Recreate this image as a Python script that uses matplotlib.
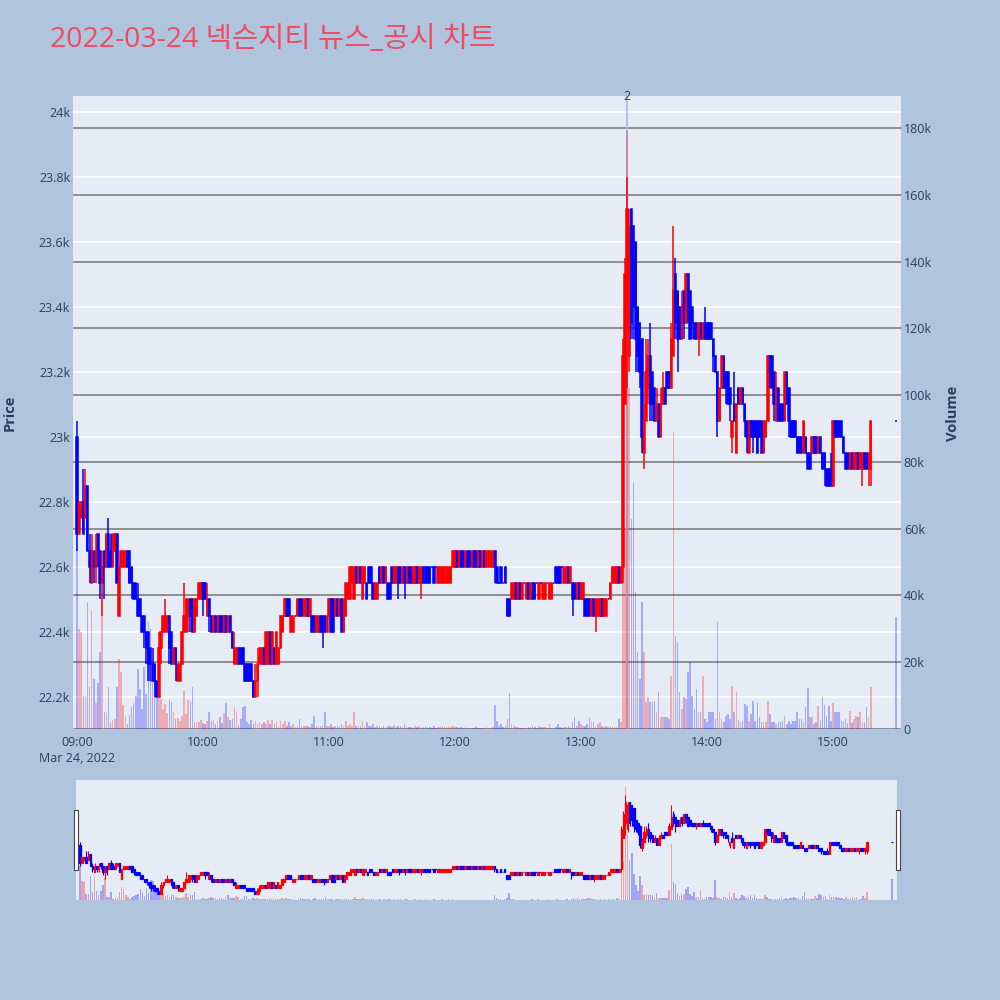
import numpy as np
import pandas as pd
import matplotlib
matplotlib.use("Agg")
import matplotlib.pyplot as plt
import matplotlib.dates as mdates
from matplotlib.lines import Line2D
from matplotlib.patches import Rectangle
from matplotlib.ticker import FuncFormatter

title = "2022-03-24 넥슨지티 뉴스_공시 차트"

# one candle per minute from 09:00 to 15:18, then the 15:30 closing auction
opens = [
    23000, 22700, 22750, 22800, 22750, 22850, 22650, 22550, 22650, 22600,
    22700, 22650, 22550, 22650, 22600, 22700, 22650, 22600, 22650, 22700,
    22450, 22600, 22600, 22600, 22650, 22650, 22600, 22550, 22550, 22500,
    22500, 22450, 22450, 22400, 22400, 22350, 22300, 22300, 22250, 22200,
    22350, 22400, 22400, 22400, 22450, 22400, 22300, 22350, 22250, 22250,
    22300, 22400, 22400, 22450, 22500, 22500, 22400, 22450, 22500, 22500,
    22550, 22550, 22450, 22500, 22450, 22400, 22450, 22400, 22450, 22450,
    22400, 22450, 22400, 22450, 22400, 22300, 22300, 22350, 22350, 22350,
    22300, 22300, 22300, 22300, 22250, 22200, 22250, 22300, 22300, 22350,
    22300, 22300, 22400, 22300, 22350, 22300, 22300, 22350, 22400, 22450,
    22500, 22500, 22400, 22400, 22450, 22450, 22500, 22500, 22450, 22450,
    22500, 22450, 22450, 22450, 22400, 22400, 22450, 22450, 22450, 22400,
    22450, 22500, 22500, 22450, 22500, 22450, 22500, 22400, 22450, 22500,
    22500, 22550, 22500, 22600, 22550, 22600, 22500, 22550, 22550, 22600,
    22600, 22550, 22500, 22500, 22600, 22550, 22600, 22550, 22550, 22550,
    22600, 22550, 22550, 22600, 22600, 22550, 22600, 22550, 22600, 22600,
    22550, 22550, 22600, 22550, 22550, 22600, 22600, 22600, 22600, 22600,
    22600, 22600, 22550, 22550, 22550, 22550, 22550, 22550, 22550, 22600,
    22600, 22650, 22600, 22650, 22650, 22600, 22650, 22650, 22600, 22650,
    22650, 22600, 22650, 22600, 22650, 22600, 22600, 22600, 22600, 22650,
    22600, 22550, 22600, 22550, 22600, 22500, 22500, 22500, 22500, 22550,
    22500, 22550, 22500, 22550, 22500, 22550, 22500, 22550, 22550, 22550,
    22500, 22550, 22500, 22500, 22550, 22500, 22500, 22550, 22600, 22600,
    22600, 22600, 22550, 22550, 22600, 22550, 22550, 22550, 22500, 22550,
    22500, 22500, 22500, 22500, 22500, 22450, 22500, 22450, 22450, 22450,
    22500, 22450, 22450, 22500, 22500, 22550, 22550, 22550, 22600, 22550,
    22600, 23100, 23350, 23250, 23700, 23650, 23600, 23400, 23350, 23300,
    22950, 23050, 23150, 23250, 23200, 23150, 23050, 23100, 23000, 23100,
    23150, 23200, 23200, 23150, 23250, 23500, 23450, 23400, 23300, 23450,
    23350, 23500, 23450, 23400, 23350, 23350, 23300, 23350, 23300, 23350,
    23350, 23350, 23350, 23300, 23250, 23200, 23050, 23150, 23250, 23200,
    23200, 23150, 23000, 23100, 22950, 23150, 23100, 23150, 23100, 23050,
    22950, 23050, 23050, 23050, 23050, 23050, 23050, 22950, 23000, 23050,
    23250, 23250, 23200, 23050, 23150, 23100, 23100, 23050, 23200, 23150,
    23050, 23050, 23050, 23000, 23000, 23000, 22950, 23000, 22950, 22950,
    22950, 23000, 23000, 22950, 23000, 22950, 22950, 22900, 22900, 22900,
    22850, 23050, 23050, 23050, 23050, 23000, 22950, 22950, 22900, 22950,
    22900, 22900, 22950, 22900, 22900, 22950, 22950, 22900, 22900,
    23050,
]
highs = [
    23050, 22800, 22800, 22900, 22900, 22850, 22700, 22700, 22650, 22700,
    22700, 22650, 22650, 22650, 22700, 22750, 22700, 22700, 22700, 22700,
    22600, 22650, 22650, 22650, 22650, 22650, 22600, 22550, 22550, 22550,
    22500, 22450, 22450, 22400, 22400, 22350, 22350, 22300, 22250, 22400,
    22400, 22450, 22500, 22450, 22450, 22400, 22350, 22350, 22300, 22300,
    22400, 22550, 22500, 22500, 22500, 22500, 22500, 22500, 22550, 22550,
    22550, 22550, 22550, 22500, 22450, 22450, 22450, 22450, 22450, 22450,
    22450, 22450, 22450, 22450, 22400, 22400, 22350, 22350, 22350, 22350,
    22300, 22300, 22300, 22300, 22250, 22300, 22350, 22350, 22350, 22350,
    22400, 22400, 22400, 22400, 22350, 22400, 22350, 22450, 22450, 22500,
    22500, 22500, 22450, 22450, 22450, 22500, 22500, 22500, 22500, 22500,
    22500, 22500, 22450, 22450, 22450, 22450, 22450, 22450, 22450, 22450,
    22500, 22500, 22500, 22500, 22500, 22500, 22500, 22500, 22550, 22550,
    22600, 22600, 22600, 22600, 22600, 22600, 22600, 22600, 22550, 22600,
    22600, 22550, 22550, 22550, 22600, 22600, 22600, 22600, 22550, 22550,
    22600, 22600, 22600, 22600, 22600, 22600, 22600, 22600, 22600, 22600,
    22600, 22600, 22600, 22600, 22600, 22600, 22600, 22600, 22600, 22600,
    22600, 22600, 22600, 22600, 22600, 22600, 22600, 22600, 22600, 22650,
    22650, 22650, 22650, 22650, 22650, 22650, 22650, 22650, 22650, 22650,
    22650, 22650, 22650, 22650, 22650, 22650, 22650, 22650, 22650, 22650,
    22600, 22550, 22600, 22550, 22600, 22500, 22500, 22550, 22550, 22550,
    22550, 22550, 22550, 22550, 22550, 22550, 22550, 22550, 22550, 22550,
    22550, 22550, 22550, 22550, 22550, 22550, 22550, 22550, 22600, 22600,
    22600, 22600, 22600, 22600, 22600, 22600, 22550, 22550, 22550, 22550,
    22550, 22550, 22500, 22500, 22500, 22500, 22500, 22500, 22500, 22500,
    22500, 22500, 22500, 22500, 22550, 22600, 22600, 22600, 22600, 22600,
    23300, 23550, 23800, 23700, 23700, 23650, 23600, 23400, 23350, 23300,
    23100, 23300, 23300, 23350, 23200, 23150, 23150, 23100, 23150, 23200,
    23150, 23200, 23200, 23350, 23650, 23550, 23450, 23400, 23450, 23450,
    23500, 23500, 23450, 23400, 23350, 23350, 23350, 23350, 23350, 23400,
    23350, 23350, 23350, 23300, 23250, 23200, 23150, 23250, 23250, 23200,
    23200, 23150, 23050, 23200, 23100, 23150, 23150, 23150, 23100, 23050,
    23050, 23050, 23050, 23050, 23050, 23050, 23050, 23050, 23050, 23250,
    23250, 23250, 23200, 23200, 23150, 23100, 23100, 23200, 23200, 23150,
    23050, 23050, 23050, 23000, 23000, 23000, 23050, 23000, 22950, 22950,
    23000, 23000, 23000, 23000, 23000, 22950, 22950, 22900, 22900, 22950,
    23050, 23050, 23050, 23050, 23050, 23000, 22950, 22950, 22950, 22950,
    22950, 22950, 22950, 22950, 22950, 22950, 22950, 22950, 23050,
    23050,
]
lows = [
    22650, 22700, 22750, 22700, 22750, 22650, 22550, 22550, 22550, 22550,
    22600, 22500, 22450, 22500, 22600, 22600, 22600, 22600, 22650, 22550,
    22450, 22600, 22600, 22600, 22600, 22550, 22500, 22500, 22500, 22450,
    22450, 22400, 22350, 22300, 22250, 22250, 22250, 22200, 22200, 22200,
    22300, 22400, 22400, 22400, 22300, 22300, 22300, 22250, 22250, 22250,
    22300, 22400, 22400, 22400, 22400, 22400, 22400, 22450, 22500, 22500,
    22450, 22500, 22450, 22400, 22400, 22400, 22400, 22400, 22400, 22400,
    22400, 22400, 22400, 22400, 22350, 22300, 22300, 22300, 22300, 22300,
    22250, 22250, 22250, 22250, 22200, 22200, 22200, 22300, 22300, 22300,
    22300, 22300, 22300, 22300, 22300, 22300, 22300, 22350, 22400, 22450,
    22450, 22450, 22400, 22400, 22450, 22450, 22450, 22450, 22450, 22450,
    22450, 22450, 22400, 22400, 22400, 22400, 22400, 22350, 22400, 22400,
    22450, 22400, 22400, 22450, 22450, 22450, 22400, 22400, 22450, 22500,
    22500, 22550, 22500, 22550, 22550, 22550, 22500, 22550, 22500, 22550,
    22550, 22500, 22500, 22500, 22550, 22550, 22550, 22550, 22500, 22500,
    22550, 22550, 22550, 22500, 22550, 22550, 22500, 22550, 22550, 22550,
    22550, 22550, 22550, 22550, 22500, 22550, 22550, 22550, 22550, 22600,
    22550, 22600, 22550, 22550, 22550, 22550, 22550, 22550, 22550, 22600,
    22600, 22600, 22600, 22600, 22600, 22600, 22600, 22600, 22600, 22600,
    22600, 22600, 22600, 22600, 22600, 22600, 22600, 22600, 22600, 22550,
    22550, 22550, 22550, 22550, 22550, 22450, 22450, 22500, 22500, 22500,
    22500, 22500, 22500, 22550, 22500, 22500, 22500, 22500, 22500, 22550,
    22500, 22550, 22500, 22500, 22550, 22500, 22500, 22550, 22550, 22550,
    22550, 22600, 22550, 22550, 22550, 22550, 22450, 22500, 22500, 22500,
    22500, 22500, 22450, 22450, 22450, 22450, 22450, 22400, 22450, 22450,
    22450, 22450, 22450, 22500, 22500, 22550, 22550, 22550, 22550, 22550,
    22550, 23100, 23150, 23200, 23300, 23300, 23200, 23200, 23150, 22950,
    22900, 23050, 23100, 23050, 23050, 23050, 23050, 23000, 23000, 23100,
    23100, 23150, 23150, 23150, 23250, 23300, 23200, 23300, 23300, 23300,
    23350, 23350, 23300, 23300, 23300, 23300, 23250, 23300, 23300, 23300,
    23300, 23300, 23300, 23200, 23200, 23000, 23050, 23150, 23150, 23100,
    23100, 23050, 22950, 23050, 22950, 23100, 23100, 23100, 23000, 22950,
    22950, 23000, 22950, 23000, 22950, 23000, 22950, 22950, 23000, 23050,
    23150, 23150, 23050, 23050, 23050, 23050, 23050, 23050, 23100, 23000,
    23000, 23000, 23000, 22950, 22950, 22950, 22950, 22950, 22900, 22900,
    22950, 22950, 22950, 22950, 22950, 22900, 22850, 22850, 22850, 22850,
    22850, 23000, 23000, 23000, 23000, 22950, 22900, 22900, 22900, 22900,
    22900, 22900, 22900, 22900, 22850, 22900, 22900, 22850, 22850,
    23050,
]
closes = [
    22700, 22800, 22800, 22700, 22850, 22650, 22600, 22650, 22600, 22650,
    22650, 22550, 22600, 22600, 22700, 22600, 22600, 22700, 22700, 22550,
    22600, 22650, 22650, 22650, 22600, 22550, 22550, 22500, 22500, 22450,
    22450, 22400, 22400, 22350, 22300, 22300, 22250, 22250, 22200, 22350,
    22400, 22450, 22450, 22450, 22350, 22300, 22350, 22300, 22300, 22300,
    22400, 22450, 22500, 22500, 22450, 22400, 22500, 22500, 22550, 22550,
    22500, 22500, 22500, 22450, 22400, 22450, 22400, 22450, 22400, 22400,
    22450, 22400, 22450, 22400, 22350, 22350, 22350, 22300, 22300, 22300,
    22250, 22250, 22250, 22250, 22200, 22250, 22300, 22350, 22350, 22300,
    22400, 22400, 22300, 22400, 22300, 22400, 22350, 22450, 22450, 22500,
    22450, 22450, 22450, 22450, 22450, 22500, 22450, 22450, 22500, 22500,
    22450, 22500, 22400, 22400, 22450, 22450, 22400, 22400, 22400, 22450,
    22500, 22400, 22400, 22500, 22450, 22500, 22400, 22500, 22550, 22550,
    22600, 22600, 22600, 22550, 22600, 22550, 22600, 22600, 22500, 22550,
    22550, 22500, 22550, 22550, 22550, 22600, 22550, 22600, 22500, 22500,
    22550, 22600, 22600, 22550, 22550, 22600, 22550, 22600, 22550, 22550,
    22600, 22600, 22550, 22600, 22600, 22550, 22550, 22550, 22550, 22600,
    22550, 22600, 22600, 22600, 22600, 22600, 22600, 22600, 22600, 22650,
    22650, 22600, 22650, 22600, 22600, 22650, 22600, 22600, 22650, 22600,
    22600, 22650, 22600, 22650, 22600, 22650, 22650, 22650, 22650, 22600,
    22550, 22550, 22550, 22550, 22550, 22450, 22450, 22550, 22550, 22500,
    22550, 22500, 22550, 22550, 22550, 22500, 22550, 22500, 22500, 22550,
    22550, 22550, 22550, 22550, 22550, 22550, 22550, 22550, 22550, 22550,
    22550, 22600, 22600, 22600, 22550, 22600, 22500, 22500, 22550, 22500,
    22550, 22550, 22450, 22450, 22450, 22500, 22450, 22500, 22500, 22500,
    22450, 22500, 22500, 22500, 22550, 22600, 22600, 22600, 22550, 22600,
    23250, 23500, 23700, 23650, 23350, 23400, 23300, 23250, 23200, 23000,
    23050, 23200, 23250, 23100, 23100, 23050, 23100, 23000, 23100, 23150,
    23100, 23150, 23150, 23300, 23450, 23350, 23300, 23300, 23400, 23350,
    23500, 23400, 23300, 23350, 23300, 23300, 23350, 23300, 23350, 23300,
    23300, 23300, 23300, 23250, 23200, 23050, 23150, 23250, 23150, 23150,
    23100, 23100, 23050, 23050, 23100, 23100, 23150, 23100, 23050, 23000,
    23050, 23000, 23000, 23000, 22950, 23000, 22950, 23050, 23050, 23250,
    23200, 23150, 23100, 23150, 23050, 23050, 23050, 23200, 23100, 23050,
    23000, 23000, 23000, 22950, 22950, 22950, 23050, 22950, 22900, 22900,
    23000, 22950, 22950, 23000, 22950, 22900, 22900, 22850, 22850, 22850,
    23050, 23000, 23000, 23000, 23000, 22950, 22900, 22900, 22950, 22900,
    22950, 22950, 22900, 22950, 22950, 22900, 22900, 22950, 23050,
    23050,
]
# volume in thousands of shares
volumes = [
    54, 30, 29, 10, 10, 38, 12.6, 35.7, 15, 7.8,
    13.8, 23, 34, 5, 4.8, 12.6, 2, 2.7, 3, 12.6,
    21, 17, 7.2, 4, 1.5, 4.2, 6.6, 7.8, 9.9, 18,
    12, 6, 18.6, 10.5, 32, 30, 20, 15, 12, 10,
    9, 6, 7.5, 4.8, 8.7, 8, 5, 3, 3.3, 2.5,
    4, 11.7, 4.5, 8.7, 8, 12.6, 2.2, 2.2, 2.2, 2.7,
    1.7, 1.5, 2.4, 5, 2.4, 2.7, 1.5, 2.4, 3.5, 1.8,
    4.8, 7.8, 3.5, 2.7, 3, 6.6, 5, 1.2, 3, 6.6,
    7, 2.2, 1.5, 2.7, 1.5, 2.5, 1.5, 2.2, 1.5, 2,
    1.5, 2.7, 1.5, 2.7, 1.5, 2, 1, 2.4, 1.5, 2.5,
    1, 2, 1, 1.5, 0.5, 1, 3, 1, 1, 0.8,
    1, 0.7, 1.5, 3.9, 1, 1, 1, 1, 5.2, 1,
    0.8, 1.5, 0.5, 1, 0.8, 1, 1.5, 1, 2.5, 1,
    1.5, 1, 5.2, 1, 1, 0.8, 2.5, 1, 2, 1,
    1, 1.5, 0.5, 1, 0.8, 0.5, 1, 0.5, 1, 0.8,
    0.5, 1.2, 0.5, 0.8, 1, 0.5, 1.5, 0.8, 0.5, 0.5,
    0.3, 1, 0.5, 1, 0.5, 0.5, 0.8, 0.5, 0.5, 0.3,
    0.8, 0.3, 0.5, 0.5, 0.8, 0.5, 0.5, 0.8, 0.5, 1,
    0.5, 0.5, 0.3, 0.5, 0.3, 0.5, 0.3, 0.3, 0.3, 0.3,
    0.5, 0.3, 0.3, 0.3, 0.3, 0.5, 0.3, 0.3, 0.5, 7.2,
    2.5, 1, 1.5, 0.5, 1, 3, 10.7, 1.5, 1, 0.5,
    0.5, 0.3, 0.3, 0.3, 0.3, 0.5, 0.5, 1, 0.5, 0.3,
    0.8, 0.5, 0.5, 0.5, 0.3, 1.5, 0.3, 0.3, 0.5, 1.5,
    0.5, 0.3, 0.5, 0.5, 0.8, 0.5, 2, 3.7, 1, 2.5,
    1.5, 1, 1, 1.5, 3.2, 2.5, 2, 1, 1.5, 2,
    1, 0.5, 1, 0.5, 1, 0.5, 0.8, 0.5, 3, 2,
    117, 60, 179, 102, 63, 74, 41, 23, 15, 38,
    23, 8, 9.7, 8, 8, 8.5, 5, 11, 3.5, 3.5,
    3.5, 3.5, 3, 16, 89, 28, 26, 11, 6, 9.5,
    9, 17, 20, 10, 6, 12, 5, 5, 16, 3,
    2, 5, 5, 5, 3, 32, 5, 3, 2, 4,
    4.5, 3, 13, 5, 11, 2.7, 2, 2.4, 7.5, 7,
    2.5, 4.5, 8.4, 2.4, 7.8, 3.5, 2, 2, 2, 8.4,
    4.5, 2, 2, 1.5, 2, 2, 2.5, 4, 1.5, 2.5,
    1.5, 2.5, 2.5, 5, 3, 3, 2, 6.6, 12.3, 3.5,
    3.5, 1.5, 2, 7, 2.8, 9.6, 7.2, 4, 7, 2.3,
    7.8, 5, 5, 5, 2.5, 2.5, 3, 1.8, 5.5, 1.8,
    3, 4, 3.5, 5, 2, 2, 6.6, 3.5, 12.6,
    33.6,
]
news_time = "2022-03-24 13:22"
news_label = "2"

times = list(pd.date_range("2022-03-24 09:00", periods=len(opens) - 1, freq="min"))
times.append(pd.Timestamp("2022-03-24 15:30"))
t = mdates.date2num(times)
o, h, l, c = (np.array(a, dtype=float) for a in (opens, highs, lows, closes))
v = np.array(volumes, dtype=float)
col = np.where(c > o, "red", "blue")

BG = "#B0C4DE"
PLOT_BG = "#E5ECF6"
TXT = "#2a3f5f"
FONT = ["Open Sans", "Noto Sans CJK KR", "DejaVu Sans"]
plt.rcParams["font.family"] = FONT

xlim = (mdates.date2num(pd.Timestamp("2022-03-24 08:58:06")),
        mdates.date2num(pd.Timestamp("2022-03-24 15:32:24")))
plim = (22101.5, 24049)
vlim = (0, 189.6)
minute = 1 / 1440


def draw(axp, axv, wick_lw, body_w, edge_lw, vol_w, vol_alpha):
    axv.patch.set_visible(True)
    axv.patch.set_facecolor(PLOT_BG)
    axp.patch.set_visible(False)
    axp.set_zorder(axv.get_zorder() + 1)
    axv.bar(t, v, width=vol_w * minute, color=col, alpha=vol_alpha, linewidth=0)
    axp.vlines(t, l, h, colors=col, linewidth=wick_lw)
    axp.bar(t, c - o, bottom=o, width=body_w * minute, color=col,
            edgecolor=col, linewidth=edge_lw)
    axp.set_xlim(*xlim)
    axp.set_ylim(*plim)
    axv.set_ylim(*vlim)
    for a in (axp, axv):
        for s in a.spines.values():
            s.set_visible(False)


fig = plt.figure(figsize=(10, 10), dpi=100, facecolor=BG)

# main chart
axp = fig.add_axes([0.073, 0.271, 0.828, 0.633])
axv = axp.twinx()
draw(axp, axv, wick_lw=1.1, body_w=0.65, edge_lw=1.1, vol_w=0.75, vol_alpha=0.27)

price_ticks = np.arange(22200, 24001, 200)
for p in price_ticks:
    axv.add_artist(Line2D([0, 1], [p, p], transform=axp.get_yaxis_transform(),
                          color="white", linewidth=1.2, zorder=0.5))
axv.set_yticks(np.arange(0, 181, 20))
axv.grid(axis="y", color="#8e8e8e", linewidth=1.4)
axv.set_axisbelow(True)
axp.set_yticks(price_ticks)
axp.yaxis.set_major_formatter(FuncFormatter(lambda x, pos: f"{x / 1000:g}k"))
axv.yaxis.set_major_formatter(FuncFormatter(lambda x, pos: f"{x:g}k" if x else "0"))


def time_label(x, pos):
    d = mdates.num2date(x)
    s = d.strftime("%H:%M")
    if d.hour == 9:
        s += "\nMar 24, 2022"
    return s


axp.xaxis.set_major_locator(mdates.HourLocator())
axp.xaxis.set_major_formatter(FuncFormatter(time_label))
axp.tick_params(axis="x", length=0, pad=5, labelsize=9, labelcolor=TXT)
axp.tick_params(axis="y", length=0, pad=2, labelsize=9, labelcolor=TXT)
axv.tick_params(axis="y", length=0, pad=2, labelsize=9, labelcolor=TXT)
for lab in axp.get_xticklabels():
    lab.set_linespacing(1.35)

news_x = mdates.date2num(pd.Timestamp(news_time))
axv.axvline(news_x, color="#aab6f5", linewidth=1.2, zorder=0.8)
axp.text(news_x, 1.0, news_label, transform=axp.get_xaxis_transform(),
         ha="center", va="center", fontsize=9, color=TXT)

fig.text(0.05, 0.960, title, fontsize=20.5, color="#EE4C62", va="center")
fig.text(0.010, 0.587, "Price", rotation=90, ha="center", va="center",
         fontsize=10.5, fontweight="bold", color=TXT)
fig.text(0.953, 0.587, "Volume", rotation=90, ha="center", va="center",
         fontsize=10.5, fontweight="bold", color=TXT)

# range slider
axs = fig.add_axes([0.076, 0.100, 0.821, 0.120])
axsv = axs.twinx()
draw(axs, axsv, wick_lw=0.8, body_w=0.7, edge_lw=0.9, vol_w=0.75, vol_alpha=0.3)
for a in (axs, axsv):
    a.set_xticks([])
    a.set_yticks([])
for x0 in (0.0735, 0.8955):
    fig.patches.append(Rectangle((x0, 0.130), 0.0045, 0.060, transform=fig.transFigure,
                                 facecolor="white", edgecolor="#444444", linewidth=0.8))

fig.savefig("out.png", dpi=100, facecolor=BG)
